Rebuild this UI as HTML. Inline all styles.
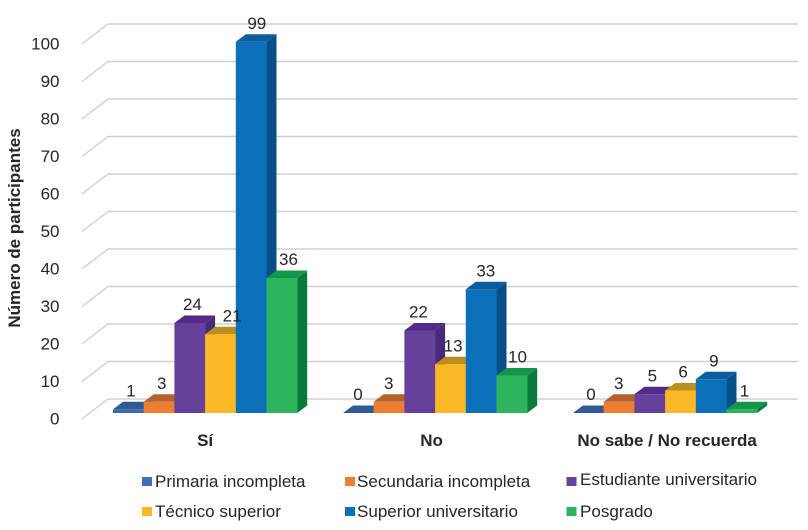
<!DOCTYPE html>
<html lang="es">
<head>
<meta charset="utf-8">
<title>Número de participantes</title>
<style>
html,body{margin:0;padding:0;background:#fff;}
#chart{display:block;width:808px;height:530px;}
text{font-family:"Liberation Sans",sans-serif;fill:#262626;}
</style>
</head>
<body>
<svg id="chart" xmlns="http://www.w3.org/2000/svg" width="808" height="530" viewBox="0 0 808 530"></svg>
<script>
const categories = ['Sí', 'No', 'No sabe / No recuerda'];
const seriesNames = ['Primaria incompleta', 'Secundaria incompleta', 'Estudiante universitario', 'Técnico superior', 'Superior universitario', 'Posgrado'];
const primariaValues = [1, 0, 0];
const secundariaValues = [3, 3, 3];
const estudianteValues = [24, 22, 5];
const tecnicoValues = [21, 13, 6];
const superiorValues = [99, 33, 9];
const posgradoValues = [36, 10, 1];
const yTicks = [0, 10, 20, 30, 40, 50, 60, 70, 80, 90, 100];
const seriesValues = [primariaValues, secundariaValues, estudianteValues, tecnicoValues, superiorValues, posgradoValues];

const palette = [
  {front:'#3a6aab', top:'#2f5a94', side:'#284d80', key:'#4170b8'},
  {front:'#ed7d31', top:'#b4632f', side:'#a8551f', key:'#ed7d31'},
  {front:'#66419b', top:'#532a86', side:'#482a78', key:'#6541a0'},
  {front:'#fdb827', top:'#b98f22', side:'#a67f1d', key:'#fdb827'},
  {front:'#0b70b8', top:'#0d5c9c', side:'#094f87', key:'#0b70b8'},
  {front:'#2db45d', top:'#13964a', side:'#0b7a3c', key:'#2db45d'}
];

const svg = document.getElementById('chart');
const NS = 'http://www.w3.org/2000/svg';
const unit = 3.75, floorFront = 413, depthX = 10, depthY = 7.5, barW = 30.7;
const wallFrontX = 82, wallBackX = 108, wallFrontY = 419, wallBackY = 399, gridEndX = 798;
const groupStarts = [113, 343, 573];
const catShift = [0, -3.5, 2];

function yScale(v) { return floorFront - v * unit; }
function xBar(c, s) { return groupStarts[c] + s * barW; }
function make(tag, attrs, text) {
  const el = document.createElementNS(NS, tag);
  for (const k in attrs) el.setAttribute(k, attrs[k]);
  if (text !== undefined) el.textContent = text;
  return el;
}

const nudges = {'3-0': 9, '3-1': 0, '4-1': 2, '4-0': 3, '5-0': 4, '5-1': 3, '2-1': -4, '1-1': -3, '0-1': -3, '1-2': -3};

// Grid and value axis
yTicks.forEach(function (t) {
  const back = wallBackY - t * unit, front = wallFrontY - t * unit;
  const line = make('polyline', {points: wallFrontX + ',' + front + ' ' + wallBackX + ',' + back + ' ' + gridEndX + ',' + back, fill: 'none', stroke: '#d0d0d0', 'stroke-width': '1.4'});
  
  
  svg.appendChild(line);
  const label = make('text', {x: 59.5, y: front + 5.5, 'text-anchor': 'end', 'font-size': '17'}, String(t));
  
  
  svg.appendChild(label);
});

// Bars
categories.forEach(function (cat, c) {
  seriesNames.forEach(function (name, s) {
    const v = seriesValues[s][c], x = xBar(c, s), w = barW, y = yScale(v), col = palette[s];
    const g = make('g', {});
    
    
    g.appendChild(make('polygon', {points: (x + w) + ',' + y + ' ' + (x + w + depthX) + ',' + (y - depthY) + ' ' + (x + w + depthX) + ',' + (floorFront - depthY) + ' ' + (x + w) + ',' + floorFront, fill: col.side}));
    g.appendChild(make('polygon', {points: x + ',' + y + ' ' + (x + depthX) + ',' + (y - depthY) + ' ' + (x + w + depthX) + ',' + (y - depthY) + ' ' + (x + w) + ',' + y, fill: col.top}));
    g.appendChild(make('rect', {x: x, y: y, width: w + 0.3, height: floorFront - y, fill: col.front}));
    svg.appendChild(g);
  });
});

// Data labels, on top of all bars
categories.forEach(function (cat, c) {
  seriesNames.forEach(function (name, s) {
    const v = seriesValues[s][c];
    const n = nudges[s + '-' + c] || 0;
    const t = make('text', {x: xBar(c, s) + 18 + n, y: yScale(v) - 13, 'text-anchor': 'middle', 'font-size': '17'}, String(v));
    
    
    svg.appendChild(t);
  });
  const catLabel = make('text', {x: groupStarts[c] + 3 * barW + catShift[c], y: 446, 'text-anchor': 'middle', 'font-size': '17', 'font-weight': 'bold'}, cat);
  
  
  svg.appendChild(catLabel);
});

// Legend
const legendCols = [142, 345, 566.5];
const legendTextCols = [155, 357, 580];
const legendRows = [477, 507];
seriesNames.forEach(function (name, s) {
  const col = s % 3, ly = legendRows[Math.floor(s / 3)];
  const g = make('g', {});
  
  
  g.appendChild(make('rect', {x: legendCols[col], y: ly, width: 10, height: 9, fill: palette[s].key}));
  g.appendChild(make('text', {x: legendTextCols[col], y: ly + (s === 2 ? 8 : 10), 'font-size': '17.05'}, name));
  svg.appendChild(g);
});

const yTitle = make('text', {transform: 'translate(20,228) rotate(-90)', 'text-anchor': 'middle', 'font-size': '17', 'font-weight': 'bold'}, 'Número de participantes');


svg.appendChild(yTitle);
</script>
</body>
</html>
